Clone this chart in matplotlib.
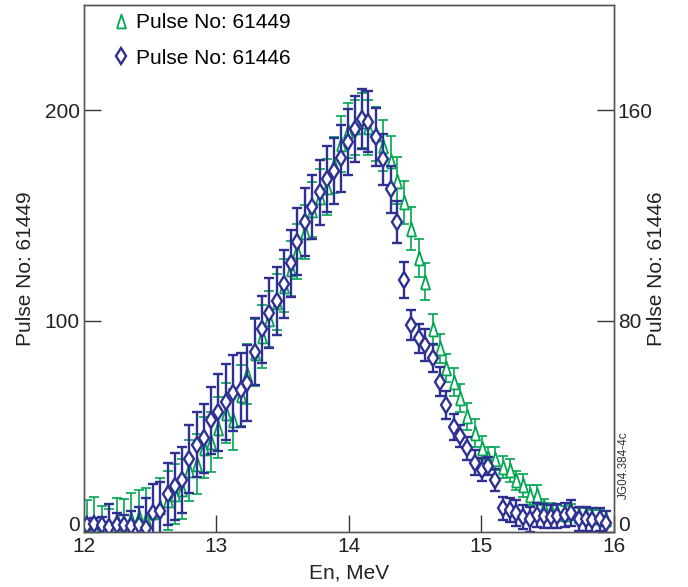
import numpy as np
import matplotlib
matplotlib.use("Agg")
import matplotlib.pyplot as plt
from matplotlib.lines import Line2D
from matplotlib.transforms import ScaledTranslation

plt.rcParams['font.family'] = ['Liberation Sans', 'DejaVu Sans']

# neutron energy, MeV (same bins for both pulses)
energy = [12.023, 12.079, 12.134, 12.189, 12.247, 12.303, 12.356, 12.414, 12.466, 12.523,
          12.576, 12.632, 12.685, 12.742, 12.797, 12.853, 12.906, 12.962, 13.014, 13.072,
          13.125, 13.183, 13.234, 13.291, 13.341, 13.398, 13.454, 13.509, 13.560, 13.610,
          13.668, 13.723, 13.781, 13.832, 13.889, 13.940, 13.995, 14.048, 14.096, 14.146,
          14.206, 14.259, 14.315, 14.365, 14.417, 14.473, 14.528, 14.579, 14.634, 14.687,
          14.737, 14.795, 14.843, 14.896, 14.949, 15.002, 15.051, 15.107, 15.165, 15.215,
          15.266, 15.316, 15.371, 15.421, 15.474, 15.525, 15.575, 15.630, 15.681, 15.736,
          15.789, 15.839, 15.894, 15.945]

# pulse 61449 (left axis)
counts_61449 = [3.1, 3.1, 2.3, 1.9, 5.5, 3.9, 6.3, 7.0, 6.3, 9.4,
                11.8, 14.9, 18.1, 20.5, 29.1, 32.3, 39.8, 42.6, 49.3, 56.5,
                53.2, 64.7, 75.0, 84.9, 92.7, 101.0, 108.9, 116.8, 124.7, 133.0,
                142.2, 152.8, 158.7, 163.4, 174.1, 184.0, 190.3, 191.8, 195.0, 191.8,
                188.7, 183.2, 176.1, 166.6, 156.2, 143.8, 129.9, 118.7, 96.0, 87.0,
                77.7, 71.0, 63.5, 54.7, 46.9, 39.8, 35.1, 34.7, 30.7, 29.1,
                24.4, 22.0, 17.3, 17.3, 11.8, 10.2, 9.4, 8.6, 9.4, 7.8,
                7.8, 7.0, 7.0, 6.3]
err_61449 = [12, 13.4, 9.8, 9, 10.6, 11.6, 12.2, 13, 14.3, 13.5,
             13.8, 14, 14.2, 14.2, 14.5, 14.3, 14.5, 14.3, 14.5, 14.3,
             14.3, 14.5, 14.3, 15.8, 14.9, 13.3, 13.2, 12.7, 13, 13,
             12.7, 13, 13.2, 13.2, 13.3, 13.4, 13, 13, 13, 13.1,
             12.8, 12.3, 11.6, 11, 10.3, 10.3, 8.9, 8.7, 7.3, 7.0,
             6.8, 6.6, 6.6, 6.5, 6.5, 5.5, 5.1, 5.4, 5.4, 5.5,
             4.4, 5.5, 4.7, 4.7, 3.6, 3.5, 3.4, 3.5, 3.6, 3.4,
             3.5, 3.4, 3.5, 3.4]

# pulse 61446 (right axis)
counts_61446 = [2.5, 3.1, 2.5, 1.9, 2.5, 2.5, 2.2, 2.5, 1.5, 7.3,
                8.0, 14.3, 17.2, 19.8, 27.6, 33.1, 35.5, 42.3, 45.3, 49.3,
                52.6, 53.8, 56.4, 68.4, 76.9, 82.9, 87.6, 94.0, 101.9, 110.1,
                117.5, 123.3, 128.8, 133.8, 137.0, 141.7, 147.8, 152.7, 156.5, 155.6,
                149.9, 141.3, 129.9, 117.6, 95.5, 78.5, 73.4, 70.9, 65.9, 57.0,
                48.2, 39.9, 36.3, 31.7, 26.3, 23.5, 24.8, 19.7, 9.0, 8.3,
                7.1, 5.6, 4.8, 6.4, 6.1, 5.8, 6.1, 6.4, 7.1, 4.8,
                4.8, 4.5, 4.8, 3.3]
err_61446 = [1.5, 2.1, 3.3, 8.6, 4.6, 3.7, 5.8, 6.8, 11.5, 10.8,
             10.8, 11.9, 12.7, 12.5, 12.9, 12.4, 13.1, 12.7, 14.6, 14.3,
             14.3, 14.2, 14.4, 12.7, 12.7, 13.3, 13.0, 13.0, 12.7, 12.7,
             12.9, 12.2, 12.4, 12.6, 12.6, 12.7, 12.6, 12.5, 11.4, 11.6,
             11.0, 9.8, 8.9, 8.0, 6.9, 5.6, 5.4, 5.9, 5.4, 5.6,
             5.4, 4.9, 4.1, 4.4, 4.8, 4.4, 3.4, 4.1, 4.4, 4.6,
             4.9, 4.6, 4.8, 4.5, 4.6, 4.4, 4.5, 4.6, 4.8, 4.6,
             4.5, 4.6, 4.4, 4.5]

green = '#00a651'
blue = '#2e3192'
tri = [(-0.65, -1), (0.65, -1), (0, 1), (-0.65, -1)]

fig = plt.figure(figsize=(6.88, 5.87), dpi=100)
ax = fig.add_axes([0.122, 0.094, 0.770, 0.898])
ax2 = ax.twinx()

ax.errorbar(energy, counts_61449, yerr=err_61449, fmt='none', ecolor=green,
            elinewidth=1.2, capsize=3.5, capthick=1.2)
ax.plot(energy, counts_61449, ls='none', marker=tri, ms=10, mfc='white',
        mec=green, mew=1.3)

ax2.errorbar(energy, counts_61446, yerr=err_61446, fmt='none', ecolor=blue,
             elinewidth=1.7, capsize=3.5, capthick=1.7)
ax2.plot(energy, counts_61446, ls='none', marker='d', ms=8, mfc='white',
         mec=blue, mew=1.7)

ax.set_xlim(12, 16)
ax.set_ylim(0, 250)
ax2.set_ylim(0, 200)
ax.set_xticks([12, 13, 14, 15, 16])
ax.set_yticks([0, 100, 200])
ax2.set_yticks([0, 80, 160])

for a in (ax, ax2):
    a.tick_params(direction='in', length=12, width=1, labelsize=15,
                  color='#333333', labelcolor='#222222', pad=3)
    for s in a.spines.values():
        s.set_color('#555555')
        s.set_linewidth(1)
ax.tick_params(axis='x', pad=4)

# lift the two "0" labels clear of the x tick labels
fig.canvas.draw()
lift = ScaledTranslation(0, 6 / 72, fig.dpi_scale_trans)
for lab in (ax.get_yticklabels()[0], ax2.get_yticklabels()[0]):
    lab.set_transform(lab.get_transform() + lift)

ax.set_xlabel('En, MeV', fontsize=15, color='#222222', labelpad=5)
ax.set_ylabel('Pulse No: 61449', fontsize=15, color='#222222', labelpad=7)
ax2.set_ylabel('Pulse No: 61446', fontsize=15, color='#222222', labelpad=-4)

ax.text(1.008, 0.126, 'JG04.384-4c', transform=ax.transAxes, rotation=90,
        fontsize=8.5, color='#333333', ha='left', va='center')

handles = [Line2D([], [], ls='none', marker=tri, ms=10, mfc='white', mec=green, mew=1.3),
           Line2D([], [], ls='none', marker='d', ms=8, mfc='white', mec=blue, mew=1.7)]
ax.legend(handles, ['Pulse No: 61449', 'Pulse No: 61446'], loc='upper left',
          bbox_to_anchor=(0.015, 1.02), frameon=False, fontsize=15,
          handlelength=1.0, handletextpad=0.2, labelspacing=0.8)

fig.savefig('out.png', dpi=100)
